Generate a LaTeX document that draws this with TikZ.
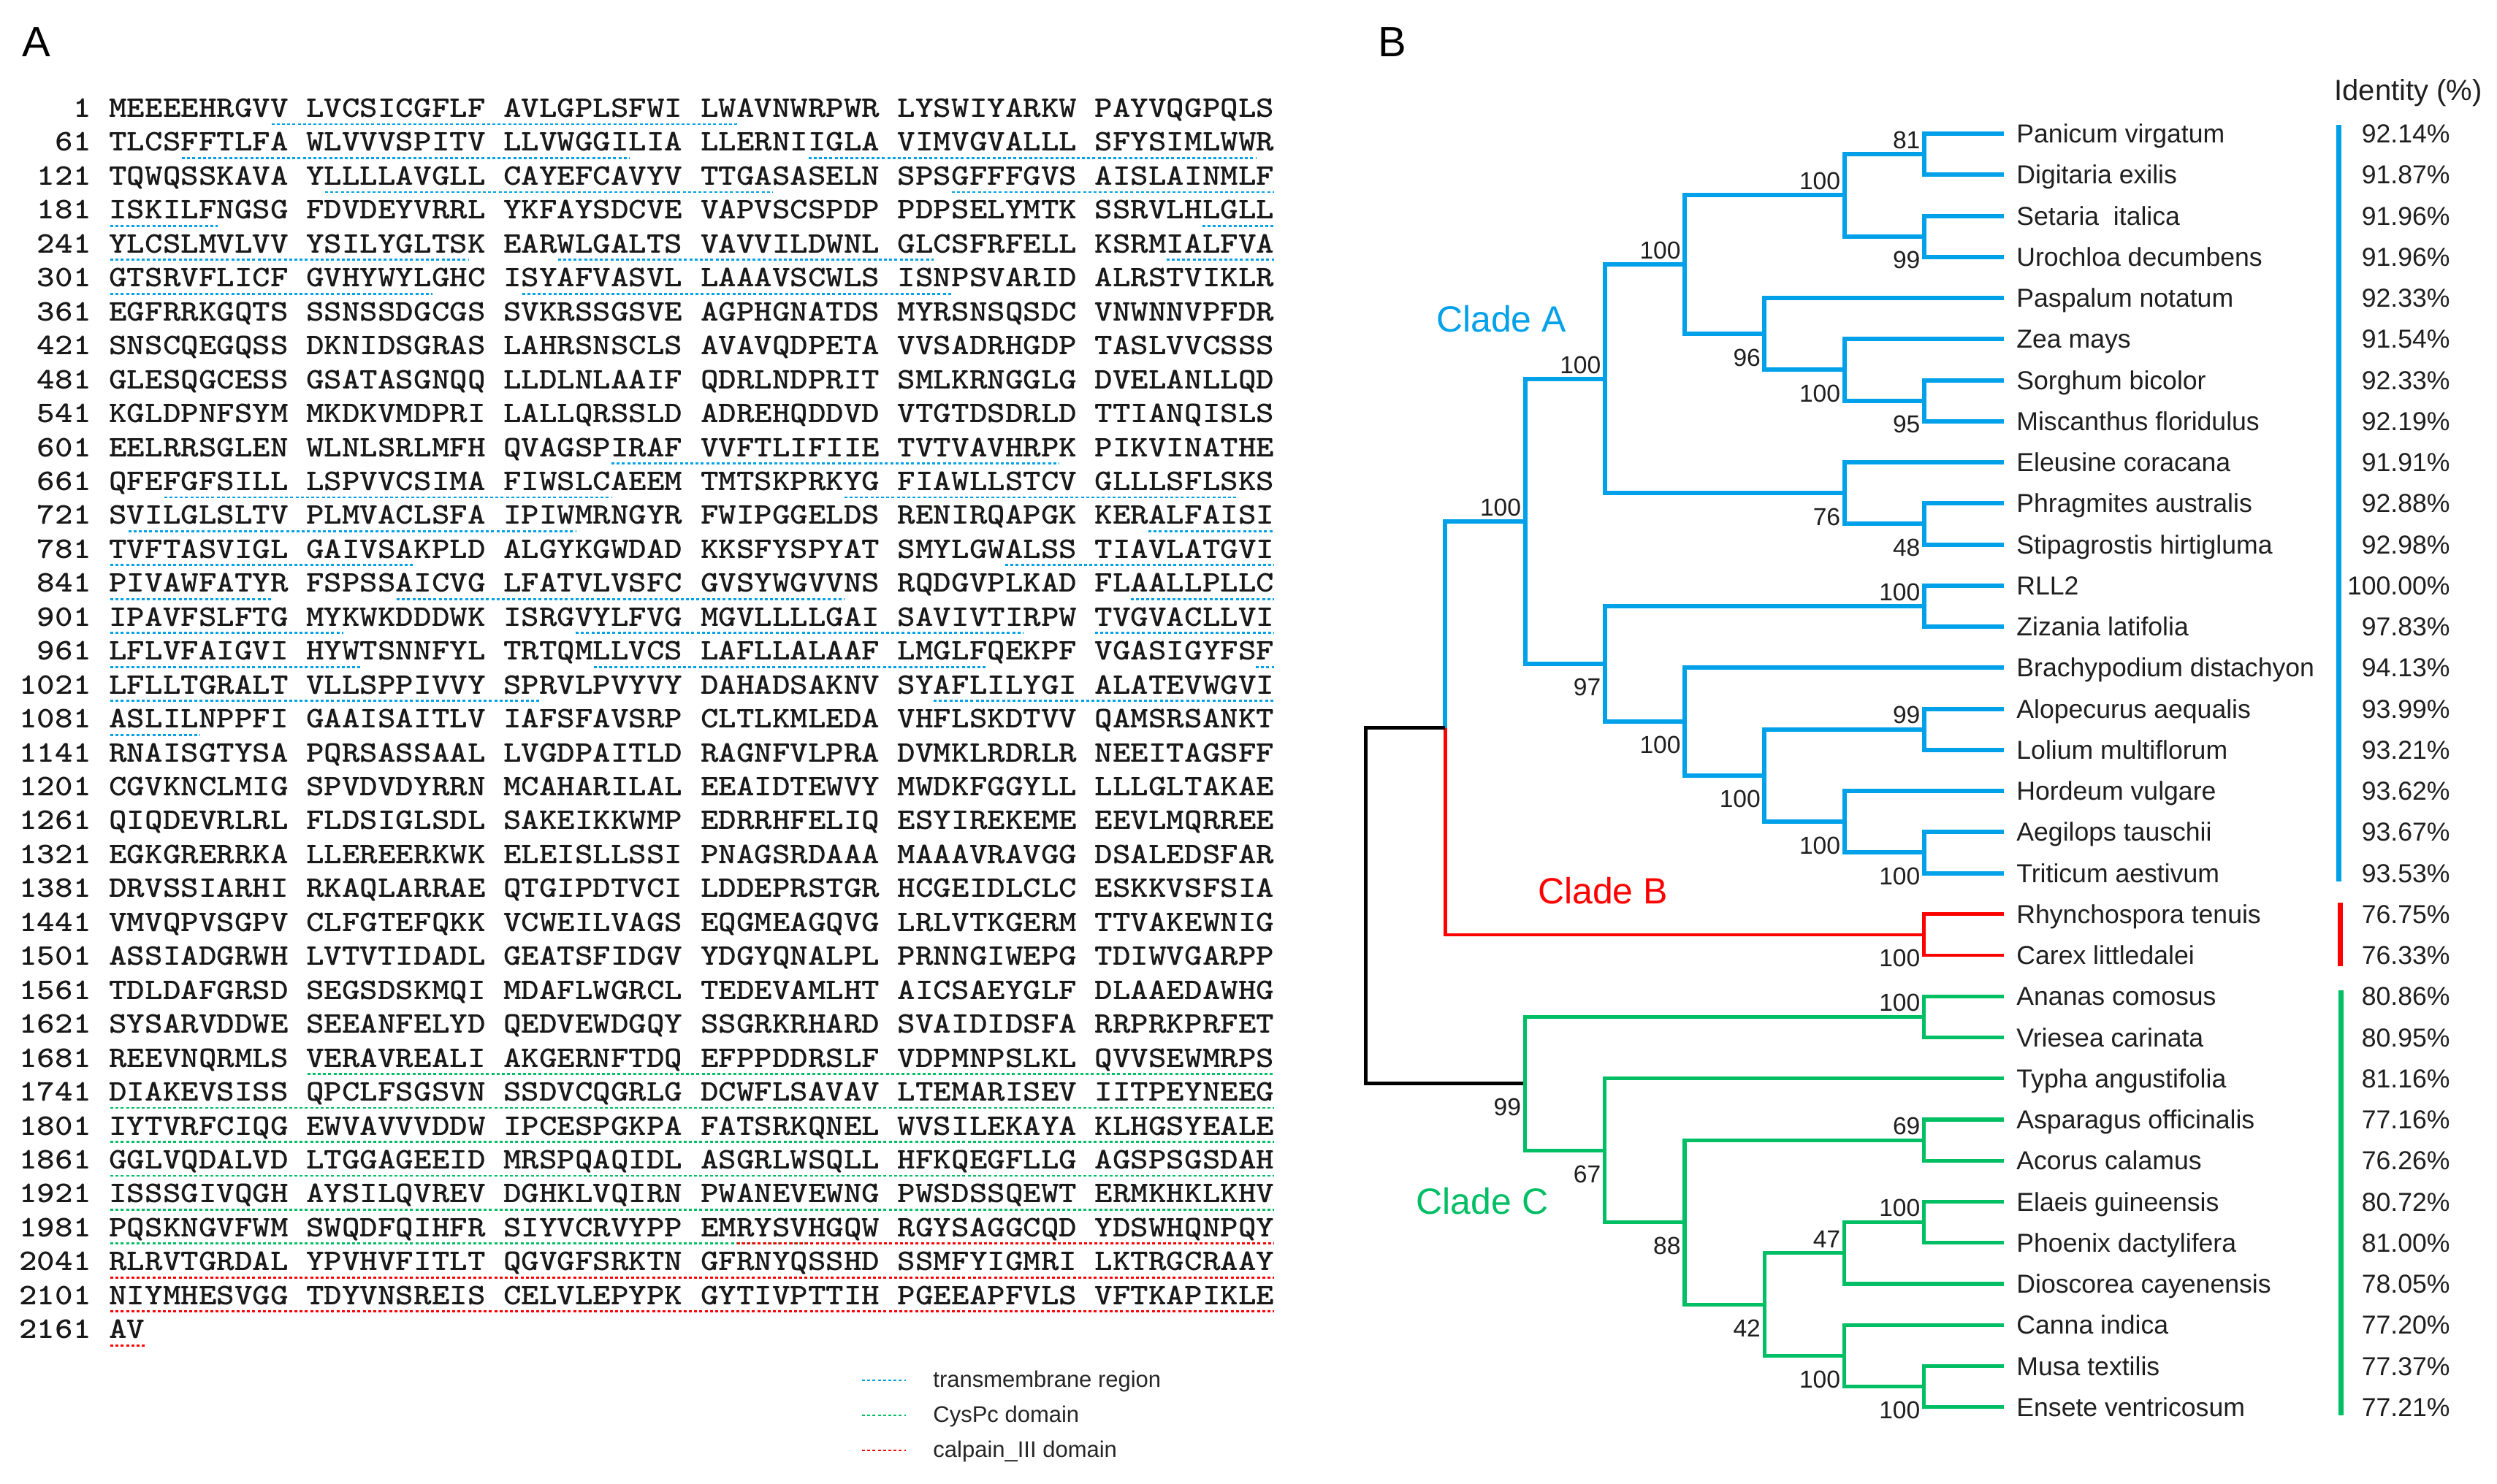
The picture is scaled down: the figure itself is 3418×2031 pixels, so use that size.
\documentclass[tikz,border=0pt]{standalone}
\usepackage{fontspec}
\setmainfont{Liberation Sans}
\newfontfamily\seqfont[FakeStretch=1.14]{lmmonolt10-bold.otf}
\definecolor{cblue}{RGB}{0,161,233}
\definecolor{cred}{RGB}{255,0,0}
\definecolor{cgreen}{RGB}{0,190,100}
\newcommand\seqrow[3]{%
  \node[seqnum] (n#1) at (125,{160.5+46.45*#1}) {#2};
  \node[seqtxt] (s#1) at (149,{160.5+46.45*#1}) {#3};}
\newcommand\ulseg[4]{%
  \pgfmathsetmacro\ulxa{151+24.5*((#3-1)+floor((#3-1)/10))}%
  \pgfmathsetmacro\ulxb{151+24.5*(#4+floor((#4-1)/10))}%
  \pgfmathsetmacro\ulyy{170+46.45*#2}%
  \draw[ul,#1] (\ulxa,\ulyy) -- (\ulxb,\ulyy);}
\newcommand\leafrow[3]{%
  \node[leaf] (ln#1) at ([shift={(17,12.7)}]t#1) {#2};
  \node[idt] (id#1) at (3354,{195.7+56.25*#1}) {#3\%};}
\newcommand\bsA[2]{\node[bsa] (bs#1) at ([shift={(-5,-7)}]#1) {#2};}
\newcommand\bsB[2]{\node[bsb] (bs#1) at ([shift={(-5,20)}]#1) {#2};}
\begin{document}
\begin{tikzpicture}[x=0.5pt,y=-0.5pt,
  seqtxt/.style={font={\seqfont\fontsize{20.5pt}{20.5pt}\selectfont\spaceskip=12.25pt\relax},inner sep=0pt,anchor=base west,text=black!90},
  seqnum/.style={font={\seqfont\fontsize{20.5pt}{20.5pt}\selectfont},inner sep=0pt,anchor=base east,text=black!90},
  ul/.style={line width=1.4pt,dash pattern=on 2pt off 1.6pt},
  brb/.style={line width=3pt},
  brg/.style={line width=2.6pt},
  brr/.style={line width=2.3pt},
  brk/.style={line width=2.5pt},
  leaf/.style={font=\fontsize{17.8pt}{17.8pt}\selectfont,inner sep=0pt,anchor=base west,text=black!88},
  idt/.style={font=\fontsize{17.8pt}{17.8pt}\selectfont,inner sep=0pt,anchor=base east,text=black!88},
  bsa/.style={font=\fontsize{16.8pt}{16.8pt}\selectfont,inner sep=0pt,anchor=south east,text=black!88},
  bsb/.style={font=\fontsize{16.8pt}{16.8pt}\selectfont,inner sep=0pt,anchor=north east,text=black!88},
  clade/.style={font=\fontsize{25pt}{25pt}\selectfont,inner sep=0pt},
  lgd/.style={font=\fontsize{15.5pt}{15.5pt}\selectfont,inner sep=0pt,anchor=base west,text=black!85},
  panel/.style={font=\fontsize{29pt}{29pt}\selectfont,inner sep=0pt,anchor=base west}]
\fill[white] (0,0) rectangle (3418,2031);
\useasboundingbox (0,0) rectangle (3418,2031);
% ---------------- panel A ----------------
\node[panel] (pA) at (30,77) {A};
\seqrow{0}{1}{MEEEEHRGVV LVCSICGFLF AVLGPLSFWI LWAVNWRPWR LYSWIYARKW PAYVQGPQLS}
\seqrow{1}{61}{TLCSFFTLFA WLVVVSPITV LLVWGGILIA LLERNIIGLA VIMVGVALLL SFYSIMLWWR}
\seqrow{2}{121}{TQWQSSKAVA YLLLLAVGLL CAYEFCAVYV TTGASASELN SPSGFFFGVS AISLAINMLF}
\seqrow{3}{181}{ISKILFNGSG FDVDEYVRRL YKFAYSDCVE VAPVSCSPDP PDPSELYMTK SSRVLHLGLL}
\seqrow{4}{241}{YLCSLMVLVV YSILYGLTSK EARWLGALTS VAVVILDWNL GLCSFRFELL KSRMIALFVA}
\seqrow{5}{301}{GTSRVFLICF GVHYWYLGHC ISYAFVASVL LAAAVSCWLS ISNPSVARID ALRSTVIKLR}
\seqrow{6}{361}{EGFRRKGQTS SSNSSDGCGS SVKRSSGSVE AGPHGNATDS MYRSNSQSDC VNWNNVPFDR}
\seqrow{7}{421}{SNSCQEGQSS DKNIDSGRAS LAHRSNSCLS AVAVQDPETA VVSADRHGDP TASLVVCSSS}
\seqrow{8}{481}{GLESQGCESS GSATASGNQQ LLDLNLAAIF QDRLNDPRIT SMLKRNGGLG DVELANLLQD}
\seqrow{9}{541}{KGLDPNFSYM MKDKVMDPRI LALLQRSSLD ADREHQDDVD VTGTDSDRLD TTIANQISLS}
\seqrow{10}{601}{EELRRSGLEN WLNLSRLMFH QVAGSPIRAF VVFTLIFIIE TVTVAVHRPK PIKVINATHE}
\seqrow{11}{661}{QFEFGFSILL LSPVVCSIMA FIWSLCAEEM TMTSKPRKYG FIAWLLSTCV GLLLSFLSKS}
\seqrow{12}{721}{SVILGLSLTV PLMVACLSFA IPIWMRNGYR FWIPGGELDS RENIRQAPGK KERALFAISI}
\seqrow{13}{781}{TVFTASVIGL GAIVSAKPLD ALGYKGWDAD KKSFYSPYAT SMYLGWALSS TIAVLATGVI}
\seqrow{14}{841}{PIVAWFATYR FSPSSAICVG LFATVLVSFC GVSYWGVVNS RQDGVPLKAD FLAALLPLLC}
\seqrow{15}{901}{IPAVFSLFTG MYKWKDDDWK ISRGVYLFVG MGVLLLLGAI SAVIVTIRPW TVGVACLLVI}
\seqrow{16}{961}{LFLVFAIGVI HYWTSNNFYL TRTQMLLVCS LAFLLALAAF LMGLFQEKPF VGASIGYFSF}
\seqrow{17}{1021}{LFLLTGRALT VLLSPPIVVY SPRVLPVYVY DAHADSAKNV SYAFLILYGI ALATEVWGVI}
\seqrow{18}{1081}{ASLILNPPFI GAAISAITLV IAFSFAVSRP CLTLKMLEDA VHFLSKDTVV QAMSRSANKT}
\seqrow{19}{1141}{RNAISGTYSA PQRSASSAAL LVGDPAITLD RAGNFVLPRA DVMKLRDRLR NEEITAGSFF}
\seqrow{20}{1201}{CGVKNCLMIG SPVDVDYRRN MCAHARILAL EEAIDTEWVY MWDKFGGYLL LLLGLTAKAE}
\seqrow{21}{1261}{QIQDEVRLRL FLDSIGLSDL SAKEIKKWMP EDRRHFELIQ ESYIREKEME EEVLMQRREE}
\seqrow{22}{1321}{EGKGRERRKA LLEREERKWK ELEISLLSSI PNAGSRDAAA MAAAVRAVGG DSALEDSFAR}
\seqrow{23}{1381}{DRVSSIARHI RKAQLARRAE QTGIPDTVCI LDDEPRSTGR HCGEIDLCLC ESKKVSFSIA}
\seqrow{24}{1441}{VMVQPVSGPV CLFGTEFQKK VCWEILVAGS EQGMEAGQVG LRLVTKGERM TTVAKEWNIG}
\seqrow{25}{1501}{ASSIADGRWH LVTVTIDADL GEATSFIDGV YDGYQNALPL PRNNGIWEPG TDIWVGARPP}
\seqrow{26}{1561}{TDLDAFGRSD SEGSDSKMQI MDAFLWGRCL TEDEVAMLHT AICSAEYGLF DLAAEDAWHG}
\seqrow{27}{1621}{SYSARVDDWE SEEANFELYD QEDVEWDGQY SSGRKRHARD SVAIDIDSFA RRPRKPRFET}
\seqrow{28}{1681}{REEVNQRMLS VERAVREALI AKGERNFTDQ EFPPDDRSLF VDPMNPSLKL QVVSEWMRPS}
\seqrow{29}{1741}{DIAKEVSISS QPCLFSGSVN SSDVCQGRLG DCWFLSAVAV LTEMARISEV IITPEYNEEG}
\seqrow{30}{1801}{IYTVRFCIQG EWVAVVVDDW IPCESPGKPA FATSRKQNEL WVSILEKAYA KLHGSYEALE}
\seqrow{31}{1861}{GGLVQDALVD LTGGAGEEID MRSPQAQIDL ASGRLWSQLL HFKQEGFLLG AGSPSGSDAH}
\seqrow{32}{1921}{ISSSGIVQGH AYSILQVREV DGHKLVQIRN PWANEVEWNG PWSDSSQEWT ERMKHKLKHV}
\seqrow{33}{1981}{PQSKNGVFWM SWQDFQIHFR SIYVCRVYPP EMRYSVHGQW RGYSAGGCQD YDSWHQNPQY}
\seqrow{34}{2041}{RLRVTGRDAL YPVHVFITLT QGVGFSRKTN GFRNYQSSHD SSMFYIGMRI LKTRGCRAAY}
\seqrow{35}{2101}{NIYMHESVGG TDYVNSREIS CELVLEPYPK GYTIVPTTIH PGEEAPFVLS VFTKAPIKLE}
\seqrow{36}{2161}{AV}
% transmembrane regions
\ulseg{cblue}{0}{10}{32}
\ulseg{cblue}{1}{5}{27}\ulseg{cblue}{1}{37}{59}
\ulseg{cblue}{2}{12}{34}\ulseg{cblue}{2}{44}{60}
\ulseg{cblue}{3}{1}{6}\ulseg{cblue}{3}{57}{60}
\ulseg{cblue}{4}{1}{19}\ulseg{cblue}{4}{24}{42}\ulseg{cblue}{4}{55}{60}
\ulseg{cblue}{5}{1}{17}\ulseg{cblue}{5}{22}{43}
\ulseg{cblue}{10}{27}{49}
\ulseg{cblue}{11}{4}{26}\ulseg{cblue}{11}{39}{58}
\ulseg{cblue}{12}{2}{24}\ulseg{cblue}{12}{54}{60}
\ulseg{cblue}{13}{1}{16}\ulseg{cblue}{13}{47}{60}
\ulseg{cblue}{14}{1}{9}\ulseg{cblue}{14}{16}{38}\ulseg{cblue}{14}{53}{60}
\ulseg{cblue}{15}{1}{12}\ulseg{cblue}{15}{25}{47}\ulseg{cblue}{15}{51}{60}
\ulseg{cblue}{16}{1}{13}\ulseg{cblue}{16}{26}{45}\ulseg{cblue}{16}{60}{60}
\ulseg{cblue}{17}{1}{22}\ulseg{cblue}{17}{43}{60}
\ulseg{cblue}{18}{1}{5}
% CysPc domain
\ulseg{cgreen}{28}{11}{60}
\ulseg{cgreen}{29}{1}{60}\ulseg{cgreen}{30}{1}{60}
\ulseg{cgreen}{31}{1}{60}\ulseg{cgreen}{32}{1}{60}
\ulseg{cgreen}{33}{1}{36}
% calpain_III domain
\ulseg{cred}{33}{33}{60}
\ulseg{cred}{34}{1}{60}\ulseg{cred}{35}{1}{60}
\ulseg{cred}{36}{1}{2}
% legend
\draw[ul,cblue] (1180,1890) -- (1240,1890);
\draw[ul,cgreen] (1180,1938) -- (1240,1938);
\draw[ul,cred] (1180,1986) -- (1240,1986);
\node[lgd] (lg1) at (1277,1899) {transmembrane region};
\node[lgd] (lg2) at (1277,1947) {CysPc domain};
\node[lgd] (lg3) at (1277,1995) {calpain\_III domain};
% ---------------- panel B ----------------
\node[panel] (pB) at (1886,77) {B};
\node[font=\fontsize{20pt}{20pt}\selectfont,inner sep=0pt,anchor=base west,text=black!88] (idh) at (3195,137) {Identity (\%)};
\foreach \i in {0,...,31}{\coordinate (t\i) at (2743,{183+56.25*\i});}
% internal nodes (levels 1869 + 109.25 k)
\coordinate (a01) at (2633.75,211.125);
\coordinate (a23) at (2633.75,323.625);
\coordinate (a0123) at (2524.5,267.375);
\coordinate (a67) at (2633.75,548.625);
\coordinate (a567) at (2524.5,506.4375);
\coordinate (a4567) at (2415.25,457.21875);
\coordinate (a07) at (2306,362.296875);
\coordinate (a910) at (2633.75,717.375);
\coordinate (a810) at (2524.5,675.1875);
\coordinate (a010) at (2196.75,518.742);
\coordinate (a1112) at (2633.75,829.875);
\coordinate (a1415) at (2633.75,998.625);
\coordinate (a1718) at (2633.75,1167.375);
\coordinate (a1618) at (2524.5,1125.1875);
\coordinate (a1418) at (2415.25,1061.906);
\coordinate (a1318) at (2306,988.078);
\coordinate (a1118) at (2196.75,908.977);
\coordinate (aA) at (2087.5,713.859);
\coordinate (b) at (2633.75,1279.875);
\coordinate (ab) at (1978.25,996.867);
\coordinate (c2122) at (2633.75,1392.375);
\coordinate (c2425) at (2633.75,1561.125);
\coordinate (c2627) at (2633.75,1673.625);
\coordinate (c2628) at (2524.5,1715.8125);
\coordinate (c3031) at (2633.75,1898.625);
\coordinate (c2931) at (2524.5,1856.4375);
\coordinate (c2631) at (2415.25,1786.125);
\coordinate (c2431) at (2306,1673.625);
\coordinate (c2331) at (2196.75,1575.1875);
\coordinate (cC) at (2087.5,1483.781);
\coordinate (root) at (1869,1240.32);
% clade A
\draw[brb,cblue] (t0) -| (a01) |- (t1);
\draw[brb,cblue] (t2) -| (a23) |- (t3);
\draw[brb,cblue] (a01) -| (a0123) |- (a23);
\draw[brb,cblue] (t6) -| (a67) |- (t7);
\draw[brb,cblue] (t5) -| (a567) |- (a67);
\draw[brb,cblue] (t4) -| (a4567) |- (a567);
\draw[brb,cblue] (a0123) -| (a07) |- (a4567);
\draw[brb,cblue] (t9) -| (a910) |- (t10);
\draw[brb,cblue] (t8) -| (a810) |- (a910);
\draw[brb,cblue] (a07) -| (a010) |- (a810);
\draw[brb,cblue] (t11) -| (a1112) |- (t12);
\draw[brb,cblue] (t14) -| (a1415) |- (t15);
\draw[brb,cblue] (t17) -| (a1718) |- (t18);
\draw[brb,cblue] (t16) -| (a1618) |- (a1718);
\draw[brb,cblue] (a1415) -| (a1418) |- (a1618);
\draw[brb,cblue] (t13) -| (a1318) |- (a1418);
\draw[brb,cblue] (a1112) -| (a1118) |- (a1318);
\draw[brb,cblue] (a010) -| (aA) |- (a1118);
\draw[brb,cblue] (aA) -| (ab);
% clade B
\draw[brr,cred] (t19) -| (b) |- (t20);
\draw[brr,cred] (ab) |- (b);
% root
\draw[brk,black] (ab) -| (root) |- (cC);
% clade C
\draw[brg,cgreen] (t21) -| (c2122) |- (t22);
\draw[brg,cgreen] (t24) -| (c2425) |- (t25);
\draw[brg,cgreen] (t26) -| (c2627) |- (t27);
\draw[brg,cgreen] (c2627) -| (c2628) |- (t28);
\draw[brg,cgreen] (t30) -| (c3031) |- (t31);
\draw[brg,cgreen] (t29) -| (c2931) |- (c3031);
\draw[brg,cgreen] (c2628) -| (c2631) |- (c2931);
\draw[brg,cgreen] (c2425) -| (c2431) |- (c2631);
\draw[brg,cgreen] (t23) -| (c2331) |- (c2431);
\draw[brg,cgreen] (c2122) -| (cC) |- (c2331);
% bootstrap values
\bsA{aA}{100}\bsA{a010}{100}\bsA{a07}{100}\bsA{a0123}{100}\bsA{a01}{81}
\bsA{a1112}{100}\bsA{a1415}{99}\bsA{c2122}{100}\bsA{c2425}{69}
\bsA{c2628}{47}\bsA{c2627}{100}
\bsB{a23}{99}\bsB{a4567}{96}\bsB{a567}{100}\bsB{a67}{95}\bsB{a810}{76}
\bsB{a910}{48}\bsB{a1118}{97}\bsB{a1318}{100}\bsB{a1418}{100}\bsB{a1618}{100}
\bsB{a1718}{100}\bsB{b}{100}\bsB{cC}{99}\bsB{c2331}{67}\bsB{c2431}{88}
\bsB{c2631}{42}\bsB{c2931}{100}\bsB{c3031}{100}
% clade labels
\node[clade,text=cblue] (clA) at (2055,437) {Clade A};
\node[clade,text=cred] (clB) at (2194,1220) {Clade B};
\node[clade,text=cgreen] (clC) at (2029,1645) {Clade C};
% leaves and identities
\leafrow{0}{Panicum virgatum}{92.14}
\leafrow{1}{Digitaria exilis}{91.87}
\leafrow{2}{Setaria\ \ italica}{91.96}
\leafrow{3}{Urochloa decumbens}{91.96}
\leafrow{4}{Paspalum notatum}{92.33}
\leafrow{5}{Zea mays}{91.54}
\leafrow{6}{Sorghum bicolor}{92.33}
\leafrow{7}{Miscanthus floridulus}{92.19}
\leafrow{8}{Eleusine coracana}{91.91}
\leafrow{9}{Phragmites australis}{92.88}
\leafrow{10}{Stipagrostis hirtigluma}{92.98}
\leafrow{11}{RLL2}{100.00}
\leafrow{12}{Zizania latifolia}{97.83}
\leafrow{13}{Brachypodium distachyon}{94.13}
\leafrow{14}{Alopecurus aequalis}{93.99}
\leafrow{15}{Lolium multiflorum}{93.21}
\leafrow{16}{Hordeum vulgare}{93.62}
\leafrow{17}{Aegilops tauschii}{93.67}
\leafrow{18}{Triticum aestivum}{93.53}
\leafrow{19}{Rhynchospora tenuis}{76.75}
\leafrow{20}{Carex littledalei}{76.33}
\leafrow{21}{Ananas comosus}{80.86}
\leafrow{22}{Vriesea carinata}{80.95}
\leafrow{23}{Typha angustifolia}{81.16}
\leafrow{24}{Asparagus officinalis}{77.16}
\leafrow{25}{Acorus calamus}{76.26}
\leafrow{26}{Elaeis guineensis}{80.72}
\leafrow{27}{Phoenix dactylifera}{81.00}
\leafrow{28}{Dioscorea cayenensis}{78.05}
\leafrow{29}{Canna indica}{77.20}
\leafrow{30}{Musa textilis}{77.37}
\leafrow{31}{Ensete ventricosum}{77.21}
% identity bars
\coordinate (bb1) at (3201,171); \coordinate (bb2) at (3201,1207);
\coordinate (rb1) at (3203,1236); \coordinate (rb2) at (3203,1323);
\coordinate (gb1) at (3204,1356); \coordinate (gb2) at (3204,1938);
\draw[line width=3.5pt,cblue] (bb1) -- (bb2);
\draw[line width=3.5pt,cred] (rb1) -- (rb2);
\draw[line width=3.5pt,cgreen] (gb1) -- (gb2);
\end{tikzpicture}
\end{document}
